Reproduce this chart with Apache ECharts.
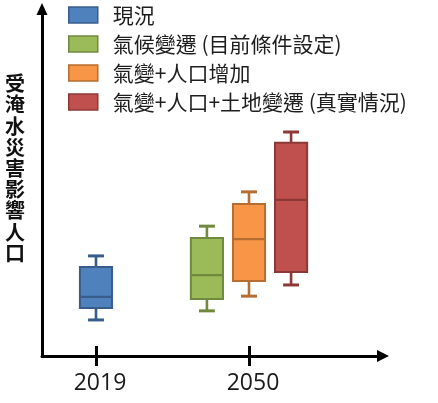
<!DOCTYPE html>
<html>
<head>
<meta charset="utf-8">
<script src="https://cdn.jsdelivr.net/npm/echarts@6/dist/echarts.min.js"></script>
<style>
html,body{margin:0;padding:0;background:#fff;}
#chart{width:438px;height:403px;}
</style>
</head>
<body>
<div id="chart"></div>
<script>
// ---- data ----
const categories = ['2019', '2050'];
const seriesNames = ['現況', '氣候變遷 (目前條件設定)', '氣變+人口增加', '氣變+人口+土地變遷 (真實情況)'];
// each row: [category, min, Q1, median, Q3, max]
const presentData = [['2019', 10.3, 13.7, 16.9, 25.4, 28.6]];
const climateData = [['2050', 12.9, 16.3, 23.1, 33.7, 37.1]];
const popData = [['2050', 17.1, 21.4, 33.4, 43.4, 46.9]];
const landData = [['2050', 20.3, 24.0, 44.6, 60.9, 64.0]];
const yAxisTitle = '受淹水災害影響人口';

const fills = ['#4f81bd', '#9bbb59', '#f79646', '#c0504d'];
const strokes = ['#385d8a', '#71893f', '#b66d31', '#8c3836'];
const allData = [presentData, climateData, popData, landData];

// slot of each item within its category group
const groupMembers = {};
allData.forEach((arr, si) => arr.forEach((row, di) => {
  (groupMembers[row[0]] = groupMembers[row[0]] || []).push(si + ':' + di);
}));
function slotOf(si, di) {
  const g = groupMembers[allData[si][di][0]];
  return { rank: g.indexOf(si + ':' + di), n: g.length };
}

function renderBox(params, api) {
  const cat = api.value(0);
  const band = api.size([1, 0])[0];
  const s = slotOf(params.seriesIndex, params.dataIndex);
  const cx = api.coord([cat, 0])[0] + (s.rank - (s.n - 1) / 2) * band * 0.275;
  const hw = band * 0.105;
  const cap = band * 0.052;
  const y = [1, 2, 3, 4, 5].map(i => api.coord([cat, api.value(i)])[1]);
  const stroke = strokes[params.seriesIndex];
  const fill = fills[params.seriesIndex];
  const ls = { stroke: stroke, lineWidth: 2.6 };
  return {
    type: 'group',
    children: [
      { type: 'line', shape: { x1: cx, y1: y[3], x2: cx, y2: y[4] }, style: ls },
      { type: 'line', shape: { x1: cx, y1: y[0], x2: cx, y2: y[1] }, style: ls },
      { type: 'line', shape: { x1: cx - cap, y1: y[4], x2: cx + cap, y2: y[4] }, style: { stroke: stroke, lineWidth: 3 } },
      { type: 'line', shape: { x1: cx - cap, y1: y[0], x2: cx + cap, y2: y[0] }, style: { stroke: stroke, lineWidth: 3 } },
      { type: 'rect', shape: { x: cx - hw, y: y[3], width: hw * 2, height: y[1] - y[3] }, style: { fill: fill, stroke: stroke, lineWidth: 2 } },
      { type: 'line', shape: { x1: cx - hw, y1: y[2], x2: cx + hw, y2: y[2] }, style: { stroke: stroke, lineWidth: 2.4 } }
    ]
  };
}

const chart = echarts.init(document.getElementById('chart'), null, { renderer: 'canvas' });
const cjk = "'Noto Sans CJK TC', 'Noto Sans CJK SC', sans-serif";

chart.setOption({
  animation: false,
  backgroundColor: '#ffffff',
  title: {
    text: yAxisTitle.split('').join('\n'),
    left: 5, top: 73,
    padding: 0,
    textStyle: { fontFamily: cjk, fontSize: 20, fontWeight: 'bold', color: '#111', lineHeight: 21.2 }
  },
  legend: {
    orient: 'vertical',
    left: 68, top: 4,
    padding: 0,
    itemWidth: 29, itemHeight: 16, itemGap: 7,
    icon: 'rect',
    textStyle: { fontFamily: cjk, fontSize: 21, color: '#1e1e1e', lineHeight: 22, padding: [0, 0, 0, 10] },
    data: seriesNames.map((n, i) => ({ name: n, itemStyle: { color: fills[i], borderColor: strokes[i], borderWidth: 1.5 } }))
  },
  grid: [
    { left: 42, top: 9, width: 341, height: 347 },
    { left: 19.5, top: 6, width: 306, height: 350 }
  ],
  xAxis: [
    { type: 'value', gridIndex: 0, min: 0, max: 1,
      axisLine: { show: true, onZero: false, symbol: ['none', 'triangle'], symbolSize: [12, 12], lineStyle: { color: '#000', width: 3 } },
      axisTick: { show: false }, axisLabel: { show: false }, splitLine: { show: false } },
    { type: 'category', gridIndex: 1, data: categories, boundaryGap: true, offset: -10,
      axisLine: { show: false, onZero: false },
      axisTick: { show: true, alignWithLabel: true, length: 20, lineStyle: { color: '#000', width: 3 } },
      axisLabel: { show: true, margin: 26, fontFamily: "'Open Sans', sans-serif", fontSize: 23, color: '#1a1a1a', padding: [0, 0, 0, 8] },
      splitLine: { show: false } }
  ],
  yAxis: [
    { type: 'value', gridIndex: 0, min: 0, max: 1,
      axisLine: { show: true, onZero: false, symbol: ['none', 'triangle'], symbolSize: [11, 12], lineStyle: { color: '#000', width: 3 } },
      axisTick: { show: false }, axisLabel: { show: false }, splitLine: { show: false } },
    { type: 'value', gridIndex: 1, min: 0, max: 100, show: false, splitLine: { show: false } }
  ],
  series: allData.map((arr, i) => ({
    type: 'custom',
    name: seriesNames[i],
    xAxisIndex: 1, yAxisIndex: 1,
    itemStyle: { color: fills[i], borderColor: strokes[i] },
    encode: { x: 0, y: [1, 2, 3, 4, 5] },
    data: arr,
    renderItem: renderBox
  }))
});
</script>
</body>
</html>
